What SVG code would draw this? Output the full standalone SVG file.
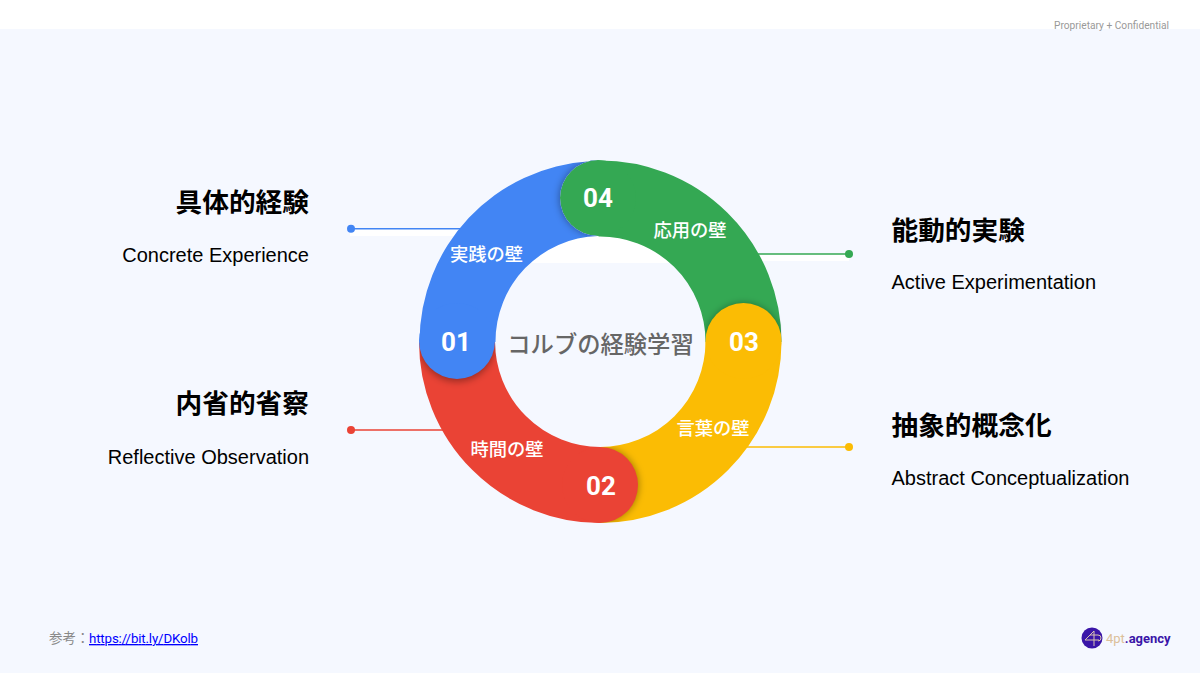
<svg xmlns="http://www.w3.org/2000/svg" width="1200" height="673" viewBox="0 0 1200 673">
<style>
text{font-family:Roboto,"Noto Sans CJK JP",sans-serif}
.h{font-size:26.700px;font-weight:700;fill:#000}
.e{font-family:"Liberation Sans",Arial,sans-serif;font-size:20px;fill:#000}
.n{font-size:26px;font-weight:700;fill:#fff;text-anchor:middle}
.s{font-size:18.300px;font-weight:500;fill:#fff;text-anchor:middle}
.arc{fill:none;stroke-width:76}
.ln{stroke-width:1.5;fill:none}
.shadow{fill:#000;fill-opacity:.33;filter:url(#blur)}
</style>
<defs>
<filter id="blur" x="-40%" y="-40%" width="180%" height="180%"><feGaussianBlur stdDeviation="3.5"/></filter>
<clipPath id="cGreen"><path d="M419.500 342A181 181 0 0 1 590 161.300L598 160A38 38 0 0 0 598 236A105.500 105.500 0 0 0 495.500 342Z"/></clipPath>
<clipPath id="cY"><path d="M706 342A105.500 105.500 0 0 0 600 236L640 160A181 181 0 0 1 781.500 342Z"/></clipPath>
<clipPath id="cR"><path d="M600 447.500A105.500 105.500 0 0 0 706 342H781.500A181 181 0 0 1 600 523Z"/></clipPath>
<clipPath id="cB"><path d="M495.500 342A105.500 105.500 0 0 0 600 447.500V523A181 181 0 0 1 419.500 342Z"/></clipPath>
</defs>
<rect width="1200" height="673" fill="#f5f8ff"/>
<rect width="1200" height="29" fill="#fff"/>
<rect x="350" y="229" width="110" height="7" fill="#fff"/>
<rect x="755" y="254" width="94" height="7" fill="#fff"/>
<path d="M522 263A105.500 105.500 0 0 1 679 263Z" fill="#fff"/>
<g id="connectors">
<path class="ln" stroke="#4285f4" d="M351 228.700H462"/><circle cx="351" cy="228.700" r="4" fill="#4285f4"/>
<path class="ln" stroke="#34a853" d="M755 254H849"/><circle cx="849" cy="254" r="4" fill="#34a853"/>
<path class="ln" stroke="#ea4335" d="M351 430H448"/><circle cx="351" cy="430" r="4" fill="#ea4335"/>
<path class="ln" stroke="#fbbc04" d="M745 447H849"/><circle cx="849" cy="447" r="4" fill="#fbbc04"/>
</g>
<g id="node-04">
<path class="arc" stroke="#34a853" d="M598 198.500A143.500 143.500 0 0 1 743.500 342"/>
<circle cx="598" cy="198" r="38" fill="#34a853"/>
</g>
<g id="node-03">
<g clip-path="url(#cY)"><path class="shadow" d="M705.500 342A38 38 0 0 1 781.500 342Z" transform="translate(0 -1)"/></g>
<path class="arc" stroke="#fbbc04" d="M743.500 342A143.500 143.500 0 0 1 600 485"/>
<circle cx="743.500" cy="341" r="38" fill="#fbbc04"/>
</g>
<g id="node-02">
<g clip-path="url(#cR)"><path class="shadow" d="M600 447A38 38 0 0 1 600 523Z" transform="translate(1 0)"/></g>
<path class="arc" stroke="#ea4335" d="M600 485A143.500 143.500 0 0 1 457 342"/>
<circle cx="600" cy="485" r="38" fill="#ea4335"/>
</g>
<g id="node-01">
<g clip-path="url(#cB)"><path class="shadow" d="M419 342A38 38 0 0 0 495 342Z" transform="translate(0 2)"/></g>
<path fill="#4285f4" d="M419.500 342A181 181 0 0 1 590 161.300L598 160A38 38 0 0 0 598 236A105.500 105.500 0 0 0 495.500 342Z"/>
<g clip-path="url(#cGreen)"><path class="shadow" d="M598 160A38 38 0 0 0 598 236Z" transform="translate(-1 0)"/></g>
<circle cx="457" cy="341" r="38" fill="#4285f4"/>
</g>
<g id="node-numbers">
<text class="n" x="456" y="351">01</text>
<text class="n" x="601" y="494.500">02</text>
<text class="n" x="744" y="351">03</text>
<text class="n" x="598" y="207">04</text>
</g>
<g id="node-walls">
<text class="s" x="486.500" y="260.500">実践の壁</text>
<text class="s" x="507" y="455.500">時間の壁</text>
<text class="s" x="713" y="434.500">言葉の壁</text>
<text class="s" x="690" y="236.500">応用の壁</text>
</g>
<g id="node-center"><text x="600.500" y="353" text-anchor="middle" font-size="23.300" font-weight="500" fill="#666">コルブの経験学習</text></g>
<g id="node-concrete">
<text class="h" x="309" y="212" text-anchor="end">具体的経験</text>
<text class="e" x="309" y="262" text-anchor="end">Concrete Experience</text>
</g>
<g id="node-reflective">
<text class="h" x="309" y="413" text-anchor="end">内省的省察</text>
<text class="e" x="309" y="463.500" text-anchor="end">Reflective Observation</text>
</g>
<g id="node-active">
<text class="h" x="891.500" y="239.500">能動的実験</text>
<text class="e" x="891.500" y="289">Active Experimentation</text>
</g>
<g id="node-abstract">
<text class="h" x="891.500" y="434.500">抽象的概念化</text>
<text class="e" x="891.500" y="485">Abstract Conceptualization</text>
</g>
<text x="1054" y="29" font-size="10.200" fill="#999">Proprietary + Confidential</text>
<text x="49" y="643" font-size="13.500" fill="#888">参考：</text>
<text x="89" y="643" font-size="13.300" textLength="109" fill="#00f" text-decoration="underline">https://bit.ly/DKolb</text>
<g id="logo">
<circle cx="1092" cy="638" r="10.500" fill="#3a15a8"/>
<path d="M1094 631L1085 640H1099M1094 631V646M1090 635H1098A3 3 0 0 1 1098 641" fill="none" stroke="#d8c4b0" stroke-width="1"/>
<text x="1106" y="643" font-size="13" font-weight="400" fill="#dcc09a">4pt<tspan fill="#3a15a8" font-weight="700">.agency</tspan></text>
</g>
</svg>
